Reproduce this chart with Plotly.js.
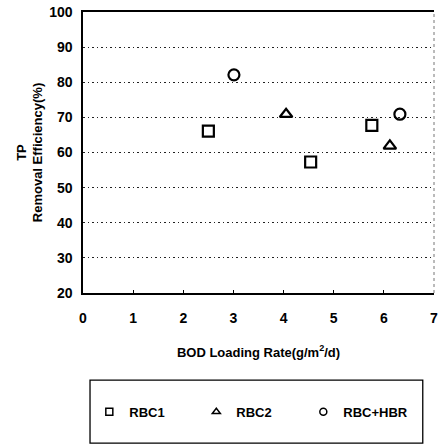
<!DOCTYPE html>
<html>
<head>
<meta charset="utf-8">
<script src="https://cdn.plot.ly/plotly-3.0.1.min.js"></script>
<style>
  html, body { margin: 0; padding: 0; background: #fff; }
  #chart { width: 439px; height: 447px; }
</style>
</head>
<body>
<div id="chart"></div>
<script>
// BOD loading rate (g/m2/d) and TP removal efficiency (%) for each reactor
const rbc1Load = [2.50, 4.54, 5.76];
const rbc1Eff  = [66.1, 57.3, 67.7];
const rbc2Load = [4.05, 6.12];
const rbc2Eff  = [70.9, 61.9];
const hbrLoad  = [3.01, 6.32];
const hbrEff   = [82.1, 70.9];

const seriesNames = ['RBC1', 'RBC2', 'RBC+HBR'];
const symbols = ['square-open', 'triangle-up-open', 'circle-open'];
const xTickVals = [0, 1, 2, 3, 4, 5, 6, 7];
const yTickVals = [20, 30, 40, 50, 60, 70, 80, 90, 100];

const FONT = 'Liberation Sans, Arial, sans-serif';

// plotted points (kept out of the legend)
function series(x, y, i) {
  return {
    type: 'scatter', mode: 'markers', x: x, y: y, name: seriesNames[i],
    legendgroup: seriesNames[i], showlegend: false,
    marker: { symbol: symbols[i], size: 11, color: '#000',
              line: { color: '#000', width: 2.2 } },
    cliponaxis: false
  };
}
// small legend keys for the same groups
function key(i) {
  return {
    type: 'scatter', mode: 'markers', x: [null], y: [null], name: seriesNames[i],
    legendgroup: seriesNames[i], showlegend: true,
    marker: { symbol: symbols[i], size: 7, color: '#000',
              line: { color: '#000', width: 1.5 } }
  };
}

const data = [
  series(rbc1Load, rbc1Eff, 0),
  series(rbc2Load, rbc2Eff, 1),
  series(hbrLoad,  hbrEff,  2),
  key(0), key(1), key(2)
];

const layout = {
  width: 439, height: 447,
  margin: { l: 83, r: 5, t: 12, b: 154 },
  paper_bgcolor: '#fff', plot_bgcolor: '#fff',
  font: { family: FONT, color: '#000' },
  showlegend: true,
  legend: {
    orientation: 'h', x: 0.018, xanchor: 'left', y: -0.423, yanchor: 'middle',
    bgcolor: 'rgba(0,0,0,0)', borderwidth: 0,
    font: { family: FONT, size: 13, weight: 700, color: '#000' },
    entrywidth: 62, itemwidth: 30
  },
  xaxis: {
    range: [0, 7], tickvals: xTickVals, ticktext: xTickVals.map(String),
    showline: true, linecolor: '#000', linewidth: 1.6, mirror: true,
    ticks: 'inside', ticklen: 3, tickcolor: '#000', tickwidth: 1,
    showgrid: false, zeroline: false,
    tickfont: { family: FONT, size: 14, weight: 700 },
    ticklabelstandoff: 12, ticklabeloverflow: 'allow',
    title: { text: 'BOD Loading Rate(g/m<sup>2</sup>/d)',
             font: { family: FONT, size: 13, weight: 700 }, standoff: 22 }
  },
  yaxis: {
    range: [20, 100], tickvals: yTickVals, ticktext: yTickVals.map(String),
    showline: true, linecolor: '#000', linewidth: 1.6, mirror: false,
    ticks: '', showgrid: true, gridcolor: '#222', gridwidth: 1, griddash: '1.5px,3px',
    zeroline: false,
    tickfont: { family: FONT, size: 14, weight: 700 },
    ticklabelstandoff: 6, ticklabeloverflow: 'allow',
    title: { text: 'TP<br>Removal Efficiency(%)',
             font: { family: FONT, size: 13, weight: 600 }, standoff: 3 }
  },
  shapes: [
    // faint dotted right edge of the frame
    { type: 'line', xref: 'paper', yref: 'paper', x0: 1, x1: 1, y0: 0, y1: 1,
      line: { color: '#777', width: 1, dash: 'dot' } },
    // legend frame
    { type: 'rect', xref: 'paper', yref: 'paper',
      x0: 0.02, x1: 0.968, y0: -0.534, y1: -0.31,
      line: { color: '#000', width: 1.3 } }
  ]
};

Plotly.newPlot('chart', data, layout, { displayModeBar: false, staticPlot: true });
</script>
</body>
</html>
